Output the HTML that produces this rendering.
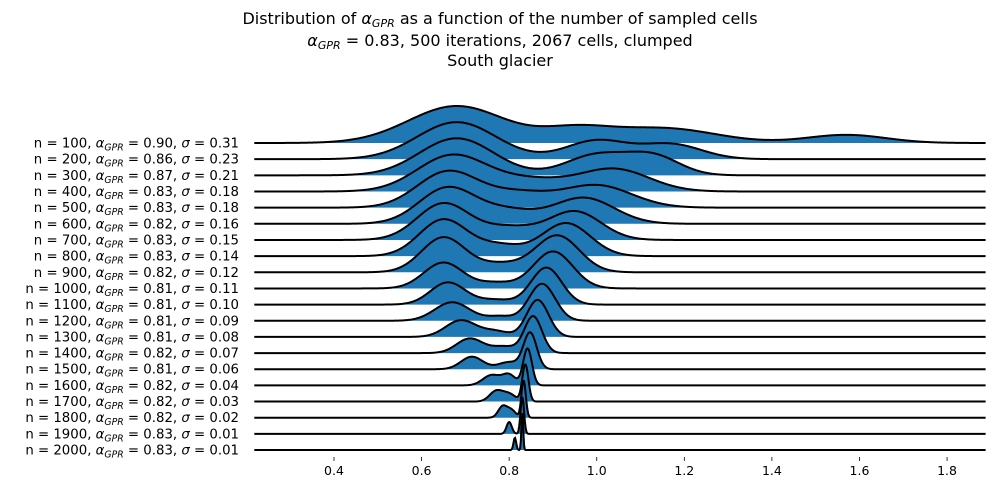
<!DOCTYPE html>
<html><head><meta charset="utf-8"><style>
body{margin:0;background:#fff;}
#wrap{position:relative;width:1000px;height:500px;overflow:hidden;font-family:"DejaVu Sans","Liberation Sans",sans-serif;}
svg{position:absolute;left:0;top:0;font-family:"DejaVu Sans","Liberation Sans",sans-serif;}
</style></head><body>
<div id="wrap">
<svg id="chart" width="1000" height="500">
  <g font-size="16" text-anchor="middle" fill="#000">
    <text x="500" y="24">Distribution of <tspan font-style="italic">α</tspan><tspan font-style="italic" font-size="11" dy="3">GPR</tspan><tspan dy="-3"> as a function of the number of sampled cells</tspan></text>
    <text x="500" y="46"><tspan font-style="italic">α</tspan><tspan font-style="italic" font-size="11" dy="3">GPR</tspan><tspan dy="-3"> = 0.83, 500 iterations, 2067 cells, clumped</tspan></text>
    <text x="500" y="66">South glacier</text>
  </g>
  <g id="ridges"></g>
  <g id="labels"></g>
  <g id="xaxis"></g>
</svg>
</div>
<script>
const rowN = [100,200,300,400,500,600,700,800,900,1000,1100,1200,1300,1400,1500,1600,1700,1800,1900,2000];
const rowAlpha = [0.90,0.86,0.87,0.83,0.83,0.82,0.83,0.83,0.82,0.81,0.81,0.81,0.81,0.82,0.81,0.82,0.82,0.82,0.83,0.83];
const rowSigma = [0.31,0.23,0.21,0.18,0.18,0.16,0.15,0.14,0.12,0.11,0.10,0.09,0.08,0.07,0.06,0.04,0.03,0.02,0.01,0.01];
// density components per row: [mean, sd, relative weight]
const rowComponents = [
 [[0.68,0.11,1.0],[0.95,0.08,0.34],[1.15,0.12,0.4],[1.57,0.09,0.22]],
 [[0.68,0.09,1.0],[1.0,0.07,0.5],[1.17,0.07,0.4]],
 [[0.68,0.085,1.0],[1.0,0.07,0.55],[1.13,0.06,0.5]],
 [[0.67,0.08,1.0],[0.85,0.08,0.3],[1.04,0.08,0.62]],
 [[0.66,0.07,1.0],[0.82,0.07,0.38],[1.0,0.08,0.62]],
 [[0.66,0.065,1.0],[0.8,0.06,0.33],[0.97,0.07,0.72]],
 [[0.65,0.06,1.0],[0.8,0.06,0.33],[0.95,0.06,0.78]],
 [[0.65,0.055,1.0],[0.78,0.05,0.28],[0.93,0.055,0.9]],
 [[0.65,0.05,0.95],[0.78,0.05,0.22],[0.91,0.05,1.0]],
 [[0.65,0.045,0.7],[0.77,0.04,0.15],[0.9,0.045,1.0]],
 [[0.66,0.04,0.6],[0.77,0.04,0.13],[0.885,0.035,1.0]],
 [[0.67,0.04,0.5],[0.78,0.03,0.12],[0.875,0.03,1.0]],
 [[0.69,0.035,0.45],[0.77,0.03,0.15],[0.865,0.025,1.0]],
 [[0.71,0.03,0.4],[0.79,0.03,0.18],[0.855,0.02,1.0]],
 [[0.715,0.025,0.35],[0.8,0.025,0.2],[0.848,0.015,1.0]],
 [[0.76,0.02,0.28],[0.8,0.015,0.28],[0.842,0.01,1.0]],
 [[0.77,0.015,0.28],[0.8,0.015,0.2],[0.837,0.007,1.0]],
 [[0.785,0.01,0.3],[0.805,0.01,0.2],[0.833,0.005,1.0]],
 [[0.8,0.006,0.32],[0.83,0.004,1.0]],
 [[0.813,0.003,0.33],[0.83,0.002,1.0]]
];
const xTicks = [0.4,0.6,0.8,1.0,1.2,1.4,1.6,1.8];
const xTickLabels = ["0.4","0.6","0.8","1.0","1.2","1.4","1.6","1.8"];

const NS="http://www.w3.org/2000/svg";
const xMin=0.218, xMax=1.888;
function xs(v){return 334+(v-0.4)*437.9;}
function base(i){return 143+i*16.16;}
const H=37;
const ridges=document.getElementById('ridges');
rowComponents.forEach((comps,i)=>{
  const pts=[];
  const N=900;
  let mx=0;
  for(let k=0;k<=N;k++){
    const v=xMin+(xMax-xMin)*k/N;
    let d=0;
    comps.forEach(c=>{d+=c[2]*Math.exp(-0.5*((v-c[0])/c[1])**2);});
    pts.push([v,d]); if(d>mx)mx=d;
  }
  const b=base(i);
  let line='';
  pts.forEach((p,k)=>{line+=(k?'L':'M')+xs(p[0]).toFixed(2)+','+(b-p[1]/mx*H).toFixed(2);});
  const g=document.createElementNS(NS,'g');
  
  
  const f=document.createElementNS(NS,'path');
  f.setAttribute('d',line+'L'+xs(xMax)+','+b+'L'+xs(xMin)+','+b+'Z');
  f.setAttribute('fill','#1f77b4');
  
  
  const l=document.createElementNS(NS,'path');
  l.setAttribute('d',line);
  l.setAttribute('fill','none');
  l.setAttribute('stroke','#000');
  l.setAttribute('stroke-width','2');
  
  
  g.appendChild(f);g.appendChild(l);ridges.appendChild(g);
});
const labels=document.getElementById('labels');
rowN.forEach((n,i)=>{
  const t=document.createElementNS(NS,'text');
  t.setAttribute('x',239);t.setAttribute('y',base(i)+4.5);
  t.setAttribute('text-anchor','end');t.setAttribute('font-size','13.3');
  
  
  t.innerHTML='n = '+n+', <tspan font-style="italic">α</tspan><tspan font-style="italic" font-size="9.3" dy="3">GPR</tspan><tspan dy="-3"> = '+rowAlpha[i].toFixed(2)+', </tspan><tspan font-style="italic">σ</tspan> = '+rowSigma[i].toFixed(2);
  labels.appendChild(t);
});
const xa=document.getElementById('xaxis');
xTicks.forEach((v,i)=>{
  const tk=document.createElementNS(NS,'line');
  tk.setAttribute('x1',xs(v));tk.setAttribute('x2',xs(v));
  tk.setAttribute('y1',457);tk.setAttribute('y2',461);
  tk.setAttribute('stroke','#000');tk.setAttribute('stroke-width','0.8');
  
  
  xa.appendChild(tk);
  const t=document.createElementNS(NS,'text');
  t.setAttribute('x',xs(v));t.setAttribute('y',475);
  t.setAttribute('text-anchor','middle');t.setAttribute('font-size','12.5');
  
  
  t.textContent=xTickLabels[i];
  xa.appendChild(t);
});
</script>
</body></html>
